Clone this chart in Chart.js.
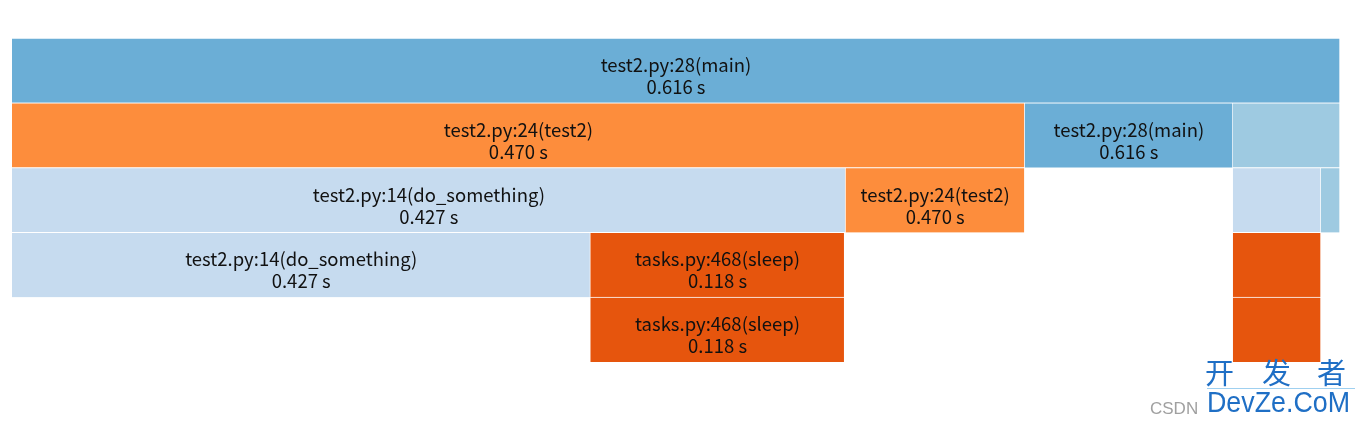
<!DOCTYPE html>
<html>
<head>
<meta charset="utf-8">
<script src="https://cdn.jsdelivr.net/npm/chart.js@4/dist/chart.umd.min.js"></script>
<style>
  html, body { margin: 0; padding: 0; background: #ffffff; }
  #wrap { width: 1363px; height: 424px; position: relative; }
</style>
</head>
<body>
<div id="wrap"><canvas id="c" width="1363" height="424"></canvas></div>
<script>
// ---- data (x in arbitrary width units, 0..1327) ----
const rows = ['0', '1', '2', '3', '4'];
const frameRow   = ['0', '1', '1', '1', '2', '2', '2', '2', '3', '3', '3', '4', '4'];
const frameStart = [0,    0,    1012, 1220, 0,   833,  1220, 1308, 0,   578, 1220, 578, 1220];
const frameEnd   = [1327, 1012, 1220, 1327, 833, 1012, 1308, 1327, 578, 832, 1308, 832, 1308];
const frameNames = ['test2.py:28(main)', 'test2.py:24(test2)', 'test2.py:28(main)', '',
                    'test2.py:14(do_something)', 'test2.py:24(test2)', '', '',
                    'test2.py:14(do_something)', 'tasks.py:468(sleep)', '',
                    'tasks.py:468(sleep)', ''];
const frameTimes = ['0.616 s', '0.470 s', '0.616 s', '',
                    '0.427 s', '0.470 s', '', '',
                    '0.427 s', '0.118 s', '',
                    '0.118 s', ''];
const axisMax = 1327;

// ---- styles ----
const barColors = ['#6baed6', '#fd8d3c', '#6baed6', '#9ecae1',
                   '#c6dbef', '#fd8d3c', '#c6dbef', '#9ecae1',
                   '#c6dbef', '#e6550d', '#e6550d',
                   '#e6550d', '#e6550d'];
const FONT = '"Noto Sans CJK SC", "Microsoft YaHei", sans-serif';

const dataPts = frameRow.map((r, i) => ({ x: [frameStart[i], frameEnd[i]], y: r }));

const labelPlugin = {
  id: 'frameLabels',
  afterDatasetsDraw(chart) {
    const ctx = chart.ctx;
    const meta = chart.getDatasetMeta(0);
    ctx.save();
    ctx.fillStyle = '#111111';
    ctx.font = '18.5px ' + FONT;
    ctx.textAlign = 'center';
    ctx.textBaseline = 'alphabetic';
    meta.data.forEach((el, i) => {
      if (!frameNames[i]) return;
      const p = el.getProps(['x', 'base', 'y', 'height'], true);
      const cx = (p.x + p.base) / 2;
      const top = p.y - p.height / 2;
      ctx.fillText(frameNames[i], cx, top + 34);
      ctx.fillText(frameTimes[i], cx, top + 56);
    });
    ctx.restore();
  },
  afterDraw(chart) {
    const ctx = chart.ctx;
    ctx.save();
    ctx.textBaseline = 'alphabetic';
    ctx.textAlign = 'left';
    ctx.fillStyle = '#a0a0a0';
    ctx.font = '17px "Liberation Sans", Arial, sans-serif';
    ctx.fillText('CSDN', 1150, 414);
    ctx.fillStyle = '#1f6fc5';
    ctx.font = '29px "Noto Sans CJK SC", sans-serif';
    const wm = ['开', '发', '者'];
    const wx = [1205, 1262, 1317];
    wm.forEach((ch, i) => ctx.fillText(ch, wx[i], 384));
    ctx.fillStyle = '#9fd0f0';
    ctx.fillRect(1207, 388, 148, 1);
    ctx.fillStyle = '#1f6fc5';
    ctx.font = '29px "Liberation Sans", Arial, sans-serif';
    ctx.fillText('DevZe.CoM', 1207, 412, 143);
    ctx.restore();
  }
};

new Chart(document.getElementById('c'), {
  type: 'bar',
  data: {
    labels: rows,
    datasets: [{
      data: dataPts,
      backgroundColor: barColors,
      borderColor: '#ffffff',
      borderWidth: { top: 1, bottom: 0, left: 0, right: 1 },
      borderSkipped: false,
      categoryPercentage: 1.0,
      barPercentage: 1.0
    }]
  },
  options: {
    indexAxis: 'y',
    responsive: false,
    animation: false,
    layout: { padding: { left: 12, right: 23, top: 38, bottom: 62 } },
    plugins: { legend: { display: false }, tooltip: { enabled: false } },
    scales: {
      x: { display: false, min: 0, max: axisMax },
      y: { display: false }
    }
  },
  plugins: [labelPlugin]
});
</script>
</body>
</html>
